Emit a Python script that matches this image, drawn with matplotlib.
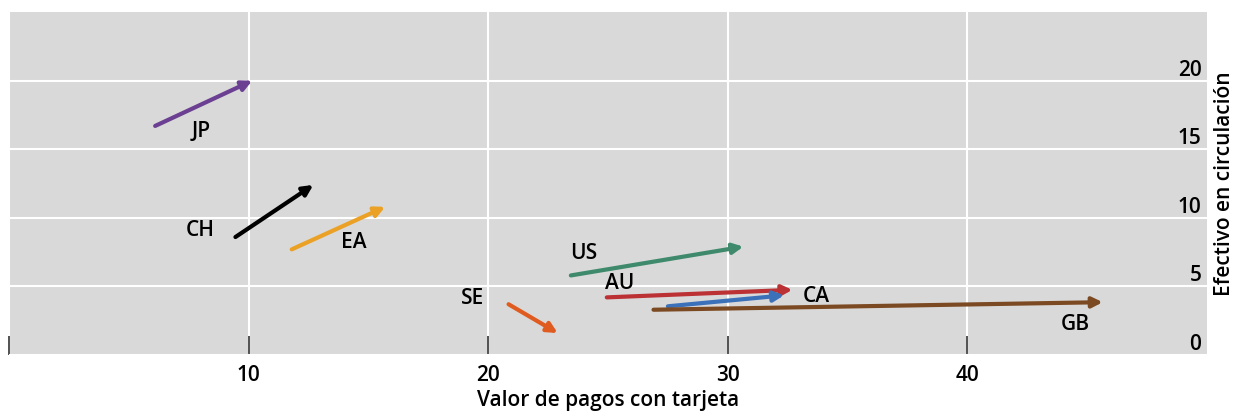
import matplotlib.pyplot as plt

plt.rcParams['font.family'] = ['Open Sans', 'DejaVu Sans']
plt.rcParams['font.weight'] = 'semibold'
plt.rcParams['axes.labelweight'] = 'semibold'

# arrows: start -> end (card payments, cash in circulation)
countries = ['JP', 'CH', 'EA', 'US', 'AU', 'CA', 'GB', 'SE']
x_start = [6.1, 9.45, 11.8, 23.45, 24.95, 27.5, 26.9, 20.85]
y_start = [16.7, 8.6, 7.7, 5.8, 4.2, 3.55, 3.3, 3.7]
x_end = [10.15, 12.7, 15.7, 30.65, 32.7, 32.35, 45.65, 22.9]
y_end = [20.0, 12.4, 10.8, 7.9, 4.75, 4.35, 3.85, 1.6]
label_x = [8.0, 8.0, 14.4, 24.0, 25.5, 33.7, 44.5, 19.35]
label_y = [16.3, 9.1, 8.2, 7.4, 5.2, 4.3, 2.25, 4.15]
colors = ['#6b3f91', '#000000', '#eba125', '#3f8a6c', '#bb3134', '#3b71b8', '#7c4a22', '#e05b20']

x_ticks = [0, 10, 20, 30, 40]
x_ticklabels = ['', '10', '20', '30', '40']
y_ticks = [0, 5, 10, 15, 20]

fig = plt.figure(figsize=(12.35, 4.17), dpi=100)
ax = fig.add_axes([0.0073, 0.1487, 0.97, 0.8223])
ax.set_facecolor('#d9d9d9')
ax.set_xlim(0, 50)
ax.set_ylim(0, 25)

ax.set_axisbelow(True)
ax.grid(True, color='white', lw=1.5)
for s in ax.spines.values():
    s.set_visible(False)

for i, c in enumerate(countries):
    ax.annotate('', xy=(x_end[i], y_end[i]), xytext=(x_start[i], y_start[i]),
                arrowprops=dict(arrowstyle='-|>', color=colors[i], lw=3,
                                mutation_scale=15, shrinkA=0, shrinkB=0))
    ax.text(label_x[i], label_y[i], c, fontsize=15, ha='center', va='center', color='black')

ax.set_xticks(x_ticks)
ax.set_xticklabels(x_ticklabels)
ax.tick_params(axis='x', direction='in', length=14, width=1.2, color='#333333',
               labelsize=15, pad=7)

ax.set_yticks(y_ticks)
ax.yaxis.tick_right()
ax.tick_params(axis='y', length=0, labelsize=15, pad=-4)
for lab in ax.get_yticklabels():
    lab.set_horizontalalignment('right')
    lab.set_verticalalignment('bottom')

ax.set_xlabel('Valor de pagos con tarjeta', fontsize=15, labelpad=3)
ax.yaxis.set_label_position('right')
ax.set_ylabel('Efectivo en circulación', fontsize=15, labelpad=5)

fig.savefig('out.png', dpi=100)
